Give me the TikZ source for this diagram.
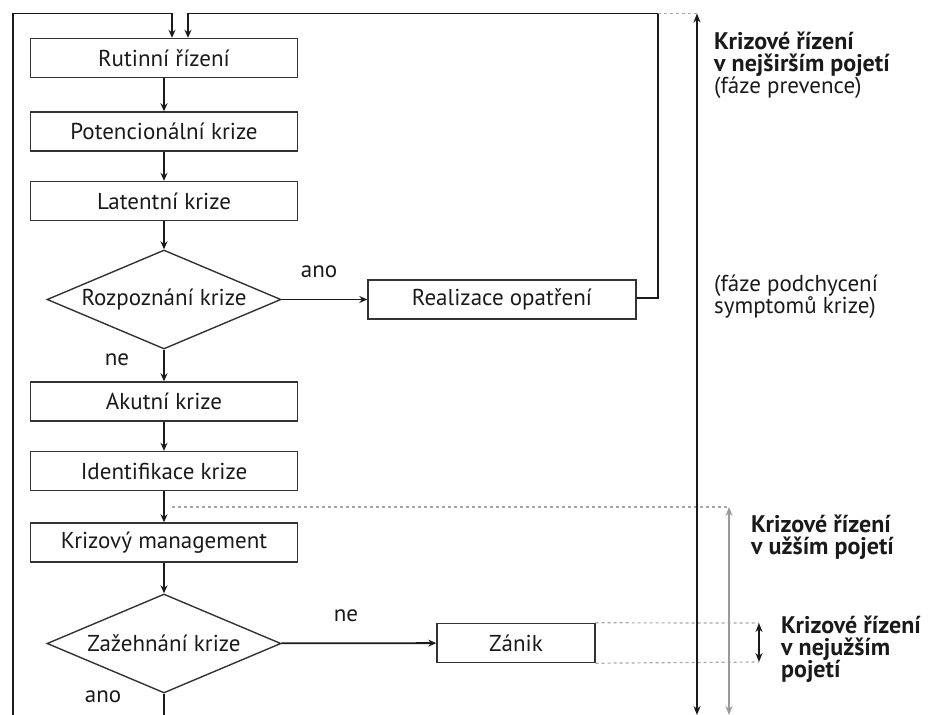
\documentclass[tikz,border=0pt]{standalone}
\usepackage{fontspec}
\setmainfont{PT Sans}
\usetikzlibrary{shapes.geometric,arrows.meta}
\definecolor{ink}{HTML}{1A1A1A}
\definecolor{frame}{HTML}{333333}
\definecolor{midgray}{HTML}{9A9A9A}
\definecolor{dotgray}{HTML}{A8A8A8}
\begin{document}
\begin{tikzpicture}[x=1pt,y=-1pt,
  txt/.style={font=\fontsize{23}{22}\selectfont, text=ink},
  rline/.style={txt, anchor=base west, inner sep=0},
  bline/.style={font=\fontsize{24}{22}\selectfont\bfseries, text=ink, anchor=base west, inner sep=0},
  box/.style={txt, draw=frame, line width=1.4pt, minimum width=267pt, minimum height=39pt, inner sep=0},
  dia/.style={txt, draw=frame, line width=1.4pt, diamond, aspect=2.4, minimum width=234pt, minimum height=99pt, inner sep=0},
  conn/.style={draw=ink, line width=1.8pt, -{Stealth[length=8pt,width=7pt]}},
  plain/.style={draw=ink, line width=1.8pt},
  dots/.style={draw=dotgray, line width=1.2pt, dash pattern=on 3pt off 3pt},
  bothtip/.style={line width=2pt, {Stealth[length=9pt,width=7pt]}-{Stealth[length=9pt,width=7pt]}},
  lab/.style={txt, inner sep=0}
]
\useasboundingbox (0,0) rectangle (932,715);

% main chain
\node[box] (rut) at (164,58) {Rutinní řízení};
\node[box] (pot) at (164,131.5) {Potencionální krize};
\node[box] (lat) at (164,201) {Latentní krize};
\node[dia] (roz) at (164,299.5) {Rozpoznání krize};
\node[box, minimum width=268pt] (real) at (502,299.5) {Realizace opatření};
\node[box] (aku) at (164,401.5) {Akutní krize};
\node[box] (ide) at (164,471) {Identifikace krize};
\node[box] (man) at (164,542.5) {Krizový management};
\node[dia] (zaz) at (164,643.5) {Zažehnání krize};
\node[box, minimum width=158pt] (zan) at (516,643) {Zánik};

\node[lab] (ano1) at (319,272) {ano};
\node[lab] (ne1) at (117,360) {ne};
\node[lab] (ne2) at (346,616) {ne};
\node[lab] (ano2) at (103,697) {ano};

\draw[conn] (rut) -- (pot);
\draw[conn] (pot) -- (lat);
\draw[conn] (lat) -- (roz);
\draw[conn] (roz) -- (real);
\draw[conn] (roz) -- (aku);
\draw[conn] (aku) -- (ide);
\draw[conn] (ide) -- (man);
\draw[conn] (man) -- (zaz);
\draw[conn] (zaz) -- (zan);

% feedback loops
\coordinate (bl) at (13,715);
\coordinate (tl) at (13,13.5);
\coordinate (in1) at (172,13.5);
\coordinate (in2) at (188,13.5);
\coordinate (tr) at (658,13.5);
\coordinate (rr) at (658,298);
\coordinate (zb) at (164,715);
\draw[plain] (zaz.south) -- (zb);
\draw[conn] (bl) -- (tl) -- (in1) -- (in1 |- rut.north);
\draw[conn] (real.east |- rr) -- (rr) -- (tr) -- (in2) -- (in2 |- rut.north);

% scale arrows
\coordinate (a1t) at (697,13.5);
\coordinate (a1b) at (697,715);
\coordinate (a2t) at (729,507);
\coordinate (a2b) at (729,715);
\coordinate (a3t) at (759,623);
\coordinate (a3b) at (759,662);
\draw[dots] (tr) -- (a1t);
\draw[dots] (172,507) -- (a2t);
\draw[dots] (zan.north east) -- (a3t);
\draw[dots] (zan.south east) -- (a3b);
\draw[bothtip, draw=ink] (a1t) -- (a1b);
\draw[bothtip, draw=midgray] (a2t) -- (a2b);
\draw[bothtip, draw=ink, line width=1.8pt] (a3t) -- (a3b);

% right texts
\node[bline] (t1a) at (714,49) {Krizové řízení};
\node[bline] (t1b) at (714,71) {v nejširším pojetí};
\node[rline] (t1c) at (714,93) {(fáze prevence)};
\node[rline] (t2a) at (714,291) {(fáze podchycení};
\node[rline] (t2b) at (714,313) {symptomů krize)};
\node[bline] (t3a) at (751,532) {Krizové řízení};
\node[bline] (t3b) at (751,554) {v užším pojetí};
\node[bline] (t4a) at (781,633) {Krizové řízení};
\node[bline] (t4b) at (781,655) {v nejužším};
\node[bline] (t4c) at (781,677) {pojetí};
\end{tikzpicture}
\end{document}
